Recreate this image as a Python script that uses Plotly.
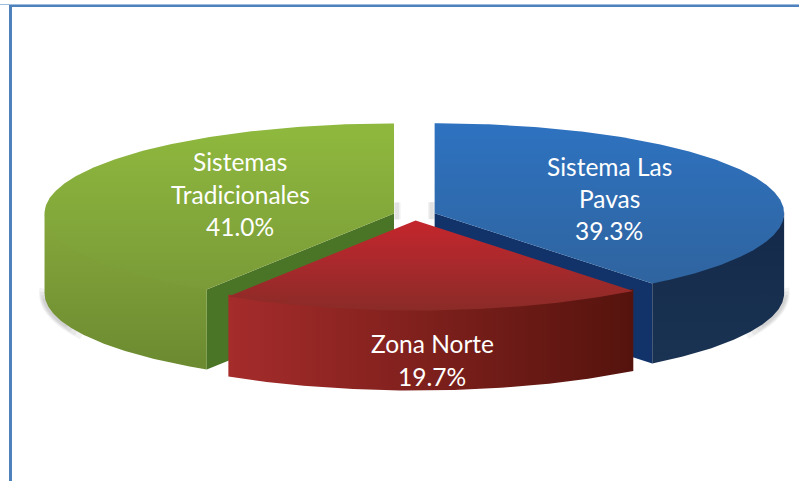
import numpy as np
import plotly.graph_objects as go

# ---- data ----
categories = ["Sistema Las Pavas", "Zona Norte", "Sistemas Tradicionales"]
values = [39.3, 19.7, 41.0]
label_lines = [["Sistema Las", "Pavas"], ["Zona Norte"], ["Sistemas", "Tradicionales"]]

# ---- pie projection (pixels) ----
CX, CY, RX, RY, DEPTH, EXPLODE = 414.5, 215.0, 349.5, 90.0, 80.0, 0.061
W, H = 799, 481

top_colors = [("#2e72c0", "#2f649f"), ("#c4262c", "#a8292c", "#8a2b27"), ("#8fb93e", "#7a9b38")]
side_grad = [("v", "#14294a", "#1a3353"),
             ("h", "#a52c2b", "#55130d"),
             ("v", "#86a83b", "#6b8a31")]
cut_colors = ["#12336a", "#5a130d", "#4a7426"]
label_pos = [(609, [166, 198, 230]), (432, [343, 376]), (240, [161, 194, 226])]

fracs = np.array(values) / sum(values)
edges = np.concatenate([[0], np.cumsum(fracs)]) * 2 * np.pi


def slice_center(i):
    mid = (edges[i] + edges[i + 1]) / 2
    return CX + EXPLODE * RX * np.sin(mid), CY - EXPLODE * RY * np.cos(mid)


def rim(i, a0, a1, n=120):
    cx, cy = slice_center(i)
    t = np.linspace(a0, a1, n)
    return cx + RX * np.sin(t), cy - RY * np.cos(t)


def grad(kind, *colors):
    stops = list(colors)
    if kind == "v":
        stops = stops[::-1]
    pos = np.linspace(0, 1, len(stops))
    return dict(type="vertical" if kind == "v" else "horizontal",
                colorscale=[[float(p), c] for p, c in zip(pos, stops)])


fig = go.Figure()


def poly(x, y, g=None, color=None, name=None):
    kw = dict(fillgradient=g) if g else dict(fillcolor=color)
    fig.add_trace(go.Scatter(x=list(x), y=list(y), mode="lines", fill="toself",
                             line=dict(width=0), hoverinfo="skip", name=name,
                             showlegend=False, **kw))


def shadow(x, y, w, alpha=0.07):
    fig.add_trace(go.Scatter(x=list(x), y=list(y), mode="lines",
                             line=dict(width=w, color=f"rgba(90,90,90,{alpha})", shape="spline"),
                             hoverinfo="skip", showlegend=False))


# soft shadows behind the pie: tapered arcs
for (i, a_mid, spreads) in ((2, 258, ((15, 11), (13, 9), (11, 7), (9, 5))),
                            (0, 102, ((15, 11), (13, 9), (11, 7), (9, 5)))):
    for spread, w in spreads:
        sx, sy = rim(i, np.radians(a_mid - spread), np.radians(a_mid + spread), 40)
        shadow(sx, sy + DEPTH, w)
for i, sgn in ((2, 3), (0, -3)):
    sx, sy = slice_center(i)
    for w in (7, 4):
        shadow([sx + sgn, sx + sgn], [sy - 11, sy + 6], w, alpha=0.09)

# draw order: back slices first, the front slice last
for i in (2, 0, 1):
    a0, a1 = edges[i], edges[i + 1]
    cx, cy = slice_center(i)
    # visible part of the outer wall: front half of the ellipse
    w0, w1 = max(a0, np.pi / 2), min(a1, 3 * np.pi / 2)
    rx_, ry_ = rim(i, w0, w1)
    # radial cut faces
    if i == 2:
        ex, ey = rim(i, a0, a0, 1)
        poly([cx, ex[0], ex[0], cx], [cy, ey[0], ey[0] + DEPTH, cy + DEPTH], color=cut_colors[i])
    if i == 0:
        ex, ey = rim(i, a1, a1, 1)
        poly([cx, ex[0], ex[0], cx], [cy, ey[0], ey[0] + DEPTH, cy + DEPTH], color=cut_colors[i])
    # the wall starts 2 px under the top face so no seam shows between them
    poly(np.r_[rx_, rx_[::-1]], np.r_[ry_ - 2, ry_[::-1] + DEPTH],
         g=grad(*side_grad[i]), name=categories[i] + " wall")
    tx, ty = rim(i, a0, a1, 240)
    poly(np.r_[cx, tx, cx], np.r_[cy, ty, cy],
         g=grad("v", *top_colors[i]), name=categories[i])

# labels
annotations = []
for lines, v, (lx, ys) in zip(label_lines, values, label_pos):
    for text, ly in zip(lines + [f"{v:.1f}%"], ys):
        annotations.append(dict(x=lx, y=ly, text=text, showarrow=False,
                                xanchor="center", yanchor="middle",
                                font=dict(family="Lato, Carlito, sans-serif", size=24.5, color="white")))

frame = [
    dict(type="line", xref="x", yref="y", x0=0, x1=W, y0=4.5, y1=4.5, line=dict(color="#9dbbdd", width=1), layer="above"),
    dict(type="line", xref="x", yref="y", x0=9, x1=W, y0=6, y1=6, line=dict(color="#4f81bd", width=2), layer="above"),
    dict(type="line", xref="x", yref="y", x0=10.5, x1=10.5, y0=5, y1=H, line=dict(color="#4f81bd", width=3), layer="above"),
]

fig.update_layout(
    width=W, height=H, margin=dict(l=0, r=0, t=0, b=0),
    paper_bgcolor="white", plot_bgcolor="white", showlegend=False,
    xaxis=dict(range=[0, W], visible=False, fixedrange=True),
    yaxis=dict(range=[H, 0], visible=False, fixedrange=True),
    shapes=frame, annotations=annotations,
)
fig.write_html("out.html", config=dict(displayModeBar=False),
               post_script="document.body.style.margin='0';document.body.style.overflow='hidden';")
